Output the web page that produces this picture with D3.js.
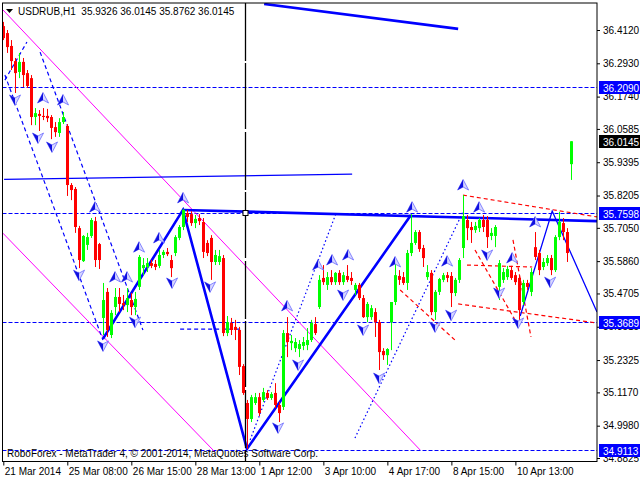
<!DOCTYPE html>
<html><head><meta charset="utf-8">
<script src="https://cdn.jsdelivr.net/npm/d3@7/dist/d3.min.js"></script>
<style>body{margin:0;background:#fff}svg{display:block}text{font-family:"Liberation Sans",Arial,sans-serif;font-size:10px}</style>
</head><body><svg id="c" width="640" height="480"></svg>
<script>
const titleText = "USDRUB,H1  35.9326 36.0145 35.8762 36.0145";
const footerText = "RoboForex - MetaTrader 4, \u00a9 2001-2014, MetaQuotes Software Corp.";
const opens = [36.426,36.401,36.355,36.301,36.262,36.298,36.258,36.240,36.101,36.112,36.105,36.105,36.101,36.065,36.044,36.083,36.069,35.858,35.844,35.704,35.586,35.644,35.676,35.729,35.647,35.383,35.476,35.322,35.422,35.458,35.436,35.429,35.447,35.422,35.494,35.561,35.565,35.579,35.576,35.569,35.608,35.619,35.590,35.615,35.669,35.708,35.758,35.754,35.722,35.740,35.726,35.651,35.669,35.583,35.583,35.597,35.329,35.365,35.351,35.340,35.211,35.079,35.022,35.079,35.100,35.090,35.115,35.097,35.115,35.072,35.065,35.329,35.293,35.275,35.272,35.283,35.286,35.304,35.361,35.422,35.526,35.501,35.529,35.511,35.544,35.511,35.533,35.526,35.483,35.501,35.454,35.386,35.386,35.404,35.368,35.265,35.250,35.368,35.440,35.533,35.529,35.508,35.615,35.651,35.690,35.633,35.529,35.544,35.404,35.476,35.519,35.536,35.533,35.472,35.519,35.633,35.733,35.708,35.697,35.704,35.733,35.733,35.676,35.676,35.494,35.519,35.529,35.554,35.536,35.526,35.440,35.508,35.476,35.636,35.615,35.565,35.579,35.597,35.554,35.672,35.722,35.690,35.9326];
const highs = [36.441,36.412,36.376,36.312,36.330,36.312,36.269,36.251,36.133,36.126,36.133,36.130,36.108,36.083,36.097,36.119,36.076,35.865,35.851,35.712,35.679,35.687,35.740,35.744,35.651,35.508,35.490,35.411,35.490,35.490,35.465,35.490,35.472,35.476,35.608,35.597,35.597,35.590,35.590,35.626,35.626,35.633,35.608,35.679,35.715,35.772,35.769,35.765,35.751,35.754,35.740,35.661,35.679,35.626,35.626,35.608,35.390,35.383,35.376,35.351,35.218,35.090,35.108,35.115,35.115,35.133,35.125,35.118,35.150,35.083,35.340,35.386,35.322,35.311,35.304,35.315,35.347,35.376,35.386,35.536,35.572,35.547,35.554,35.547,35.554,35.547,35.572,35.547,35.508,35.508,35.465,35.440,35.429,35.418,35.376,35.275,35.275,35.383,35.583,35.554,35.547,35.626,35.754,35.697,35.697,35.644,35.572,35.554,35.483,35.526,35.544,35.547,35.547,35.526,35.597,35.822,35.751,35.726,35.726,35.740,35.751,35.747,35.704,35.715,35.590,35.561,35.569,35.569,35.547,35.536,35.519,35.519,35.561,35.690,35.626,35.597,35.608,35.608,35.679,35.762,35.740,35.704,36.0145];
const lows = [36.376,36.330,36.269,36.187,36.240,36.208,36.205,36.072,36.072,36.051,36.090,36.083,36.022,36.030,36.030,36.076,35.819,35.804,35.687,35.561,35.583,35.626,35.669,35.565,35.558,35.322,35.315,35.311,35.393,35.404,35.411,35.404,35.393,35.393,35.483,35.536,35.547,35.561,35.554,35.561,35.597,35.604,35.529,35.604,35.661,35.697,35.726,35.712,35.704,35.715,35.597,35.604,35.519,35.572,35.572,35.318,35.318,35.322,35.304,35.179,35.108,34.915,35.011,35.072,35.032,35.083,35.090,35.090,35.061,35.011,35.054,35.243,35.268,35.261,35.243,35.268,35.268,35.297,35.322,35.415,35.501,35.483,35.501,35.501,35.501,35.501,35.511,35.501,35.465,35.447,35.383,35.368,35.376,35.315,35.197,35.233,35.215,35.268,35.429,35.501,35.501,35.483,35.604,35.644,35.619,35.565,35.519,35.393,35.376,35.465,35.511,35.511,35.422,35.461,35.508,35.597,35.661,35.651,35.687,35.690,35.690,35.633,35.661,35.636,35.447,35.508,35.519,35.519,35.501,35.376,35.429,35.483,35.461,35.590,35.536,35.554,35.569,35.536,35.547,35.661,35.661,35.583,35.8762];
const closes = [36.383,36.351,36.301,36.258,36.298,36.251,36.212,36.101,36.115,36.105,36.101,36.097,36.062,36.047,36.083,36.101,35.858,35.840,35.708,35.590,35.676,35.672,35.733,35.590,35.590,35.447,35.340,35.401,35.458,35.433,35.429,35.454,35.422,35.451,35.601,35.572,35.579,35.569,35.565,35.608,35.619,35.611,35.561,35.672,35.708,35.769,35.744,35.722,35.737,35.729,35.619,35.615,35.583,35.608,35.604,35.329,35.368,35.340,35.340,35.208,35.115,35.022,35.100,35.100,35.043,35.118,35.097,35.111,35.072,35.043,35.329,35.297,35.301,35.297,35.290,35.297,35.304,35.365,35.329,35.519,35.511,35.529,35.511,35.544,35.511,35.536,35.519,35.515,35.501,35.454,35.386,35.433,35.418,35.368,35.261,35.250,35.272,35.440,35.536,35.519,35.508,35.615,35.651,35.690,35.629,35.597,35.547,35.404,35.476,35.522,35.536,35.526,35.472,35.519,35.590,35.747,35.704,35.697,35.712,35.733,35.708,35.672,35.687,35.708,35.579,35.547,35.558,35.526,35.511,35.411,35.508,35.494,35.547,35.601,35.554,35.583,35.597,35.554,35.672,35.726,35.690,35.615,36.0145];
const timeTickBars = [0,16,32,48,64,80,96,112,128];
const timeTickLabels = ["21 Mar 2014","25 Mar 08:00","26 Mar 15:00","28 Mar 13:00","1 Apr 12:00","3 Apr 10:00","4 Apr 17:00","8 Apr 15:00","10 Apr 13:00"];
const priceTicks = [36.4120,36.2930,36.1740,36.0585,35.9395,35.8205,35.7050,35.5860,35.4705,35.3515,35.2325,35.1170,34.9980,34.8825];
const levelPrices = [36.2090,35.7598,35.3689,34.9113];
const lastPrice = 36.0145;
// drawn objects as [bar index, price]
const thickLines = [
  [[65.2,36.505],[113.7,36.416]],
  [[44.9,35.769],[148.4,35.729]],
  [[24.9,35.308],[44.9,35.769],[60.9,34.915],[101.9,35.751]]
];
const thinBlueLines = [
  [[0.2,35.878],[87.2,35.897]],
  [[129.2,35.390],[137.2,35.765],[148.4,35.404]]
];
const blueDashed = [
  [[0.4,36.251],[24.9,35.304]],
  [[9.2,36.333],[34.9,35.340]],
  [[0.4,36.233],[5.9,36.369]],
  [[44.2,35.343],[59.7,35.343]]
];
const blueDotted = [
  [[61.7,34.947],[83.2,35.758]],
  [[87.9,34.954],[114.9,35.762]]
];
const magentaLines = [
  [[-0.1,36.484],[104.2,34.911]],
  [[-0.1,35.686],[52.9,34.904]]
];
const redDashed = [
  [[114.9,35.822],[148.4,35.744]],
  [[113.7,35.433],[148.4,35.365]],
  [[115.9,35.572],[132.2,35.565]],
  [[117.9,35.626],[127.9,35.376]],
  [[127.4,35.662],[131.9,35.315]],
  [[99.2,35.483],[112.9,35.304]]
];
const vLineBar = 60.4, vLineMarkPrice = 35.7598;
const upArrows = [[9.93,36.169],[14.93,36.162],[22.93,35.779],[44.93,35.812],[27.93,35.529],[30.93,35.529],[33.93,35.636],[38.93,35.669],[70.93,35.426],[78.68,35.572],[82.18,35.590],[86.18,35.608],[97.93,35.583],[102.18,35.779],[114.93,35.858],[118.93,35.779],[110.93,35.586],[127.18,35.597],[132.93,35.726]];
const downArrows = [[2.93,36.162],[8.68,36.026],[12.18,35.994],[18.93,35.536],[24.93,35.283],[32.93,35.368],[42.18,35.508],[51.68,35.494],[68.68,34.990],[73.68,35.215],[84.93,35.465],[89.93,35.340],[93.93,35.168],[107.93,35.351],[111.93,35.393],[120.93,35.608],[123.93,35.472],[128.68,35.365],[136.68,35.511]];

const svg = d3.select("#c");
const L = 2.5, R = 597, T = 3, B = 461.5;
const x = d3.scaleLinear().domain([-0.2, 148.4]).range([L, R]);
const y = d3.scaleLinear().domain([34.8825, 36.412]).range([458, 30]);

svg.append("defs").append("clipPath").attr("id","pc").append("rect")
  .attr("x",L).attr("y",T).attr("width",R-L).attr("height",B-T);
const g = svg.append("g").attr("clip-path","url(#pc)");
const line = d3.line().x(d=>x(d[0])).y(d=>y(d[1]));

levelPrices.forEach(p=>{
  g.append("line").attr("x1",L).attr("x2",R).attr("y1",Math.round(y(p))+0.5).attr("y2",Math.round(y(p))+0.5)
   .attr("stroke","#0000ff").attr("stroke-dasharray","4,2");
});
magentaLines.forEach(d=>g.append("path").attr("d",line(d)).attr("fill","none").attr("stroke","#ff00ff").attr("stroke-width",1));
blueDashed.forEach(d=>g.append("path").attr("d",line(d)).attr("fill","none").attr("stroke","#0000ff").attr("stroke-width",1.2).attr("stroke-dasharray","4,3"));
blueDotted.forEach(d=>g.append("path").attr("d",line(d)).attr("fill","none").attr("stroke","#0000ff").attr("stroke-width",1.2).attr("stroke-dasharray","1.5,2.5"));
redDashed.forEach(d=>g.append("path").attr("d",line(d)).attr("fill","none").attr("stroke","#ff0000").attr("stroke-width",1.2).attr("stroke-dasharray","4,3"));
thinBlueLines.forEach(d=>g.append("path").attr("d",line(d)).attr("fill","none").attr("stroke","#0000ff").attr("stroke-width",1.3));
thickLines.forEach(d=>g.append("path").attr("d",line(d)).attr("fill","none").attr("stroke","#0000ff").attr("stroke-width",2.6));

const vx = Math.round(x(vLineBar))+0.5;
g.append("line").attr("x1",vx).attr("x2",vx).attr("y1",T).attr("y2",B).attr("stroke","#000").attr("stroke-width",1.3).attr("stroke-dasharray","58,2,66,3");
g.append("rect").attr("x",vx-2.5).attr("y",y(vLineMarkPrice)-2).attr("width",5).attr("height",5).attr("fill","#fff").attr("stroke","#000");

const bars = d3.range(opens.length);
const cg = g.append("g");
bars.forEach(i=>{
  const up = closes[i] >= opens[i];
  const col = up ? "#00ff00" : "#ff0000";
  const cx = Math.round(x(i));
  cg.append("line").attr("x1",cx+0.5).attr("x2",cx+0.5).attr("y1",y(highs[i])).attr("y2",y(lows[i])).attr("stroke",col);
  const y1 = y(Math.max(opens[i],closes[i])), y2 = y(Math.min(opens[i],closes[i]));
  cg.append("rect").attr("x",cx-1).attr("y",y1).attr("width",3).attr("height",Math.max(1,y2-y1)).attr("fill",col);
});

function arrow(d, up){
  const ax = x(d[0]), ay = y(d[1]);
  const s = up ? 1 : -1;
  const a = g.append("g").attr("transform",`translate(${ax},${ay}) scale(1,${s})`);
  a.append("path").attr("d","M0,-5.5 L5.5,5 L0,2 L-5.5,5 Z").attr("fill","#d8d8ff").attr("stroke","#6a6aff").attr("stroke-width",0.8);
  a.append("path").attr("d","M0,-5.5 L0,2 L-5.5,5 Z").attr("fill","#1010e0");
}
upArrows.forEach(d=>arrow(d,true));
downArrows.forEach(d=>arrow(d,false));

svg.append("rect").attr("x",L).attr("y",T).attr("width",R-L).attr("height",B-T).attr("fill","none").attr("stroke","#000");

const ya = svg.append("g").attr("transform",`translate(${R},0)`)
  .call(d3.axisRight(y).tickValues(priceTicks).tickFormat(d3.format(".4f")).tickSize(3).tickPadding(3));
ya.select(".domain").remove();
ya.selectAll("text").attr("font-family","Liberation Sans, Arial").attr("font-size",10.5).attr("fill","#000");
ya.selectAll("line").attr("stroke","#000");

const xa = svg.append("g").attr("transform",`translate(0,${B})`)
  .call(d3.axisBottom(x).tickValues(timeTickBars).tickFormat((d,i)=>timeTickLabels[i]).tickSize(4).tickPadding(2));
xa.select(".domain").remove();
xa.selectAll("text").attr("text-anchor","start").attr("dx",1).attr("font-family","Liberation Sans, Arial").attr("font-size",10).attr("fill","#000");
xa.selectAll("line").attr("stroke","#000");

levelPrices.forEach(p=>{
  const py = Math.round(y(p));
  svg.append("rect").attr("x",R+2).attr("y",py-6).attr("width",640-R-2).attr("height",13).attr("fill","#0000ff");
  svg.append("text").attr("x",R+6).attr("y",py+4.5).attr("fill","#fff").attr("font-size",10.5).text(d3.format(".4f")(p));
});
{
  const py = Math.round(y(lastPrice));
  svg.append("rect").attr("x",R+2).attr("y",py-6).attr("width",640-R-2).attr("height",13).attr("fill","#000");
  svg.append("text").attr("x",R+6).attr("y",py+4.5).attr("fill","#fff").attr("font-size",10.5).text(d3.format(".4f")(lastPrice));
}

svg.append("path").attr("d","M6,9 L13,9 L9.5,13 Z").attr("fill","#000");
svg.append("text").attr("x",18).attr("y",15).attr("font-size",11).attr("xml:space","preserve").style("white-space","pre").text(titleText);
svg.append("text").attr("x",7).attr("y",457).text(footerText);
</script></body></html>
